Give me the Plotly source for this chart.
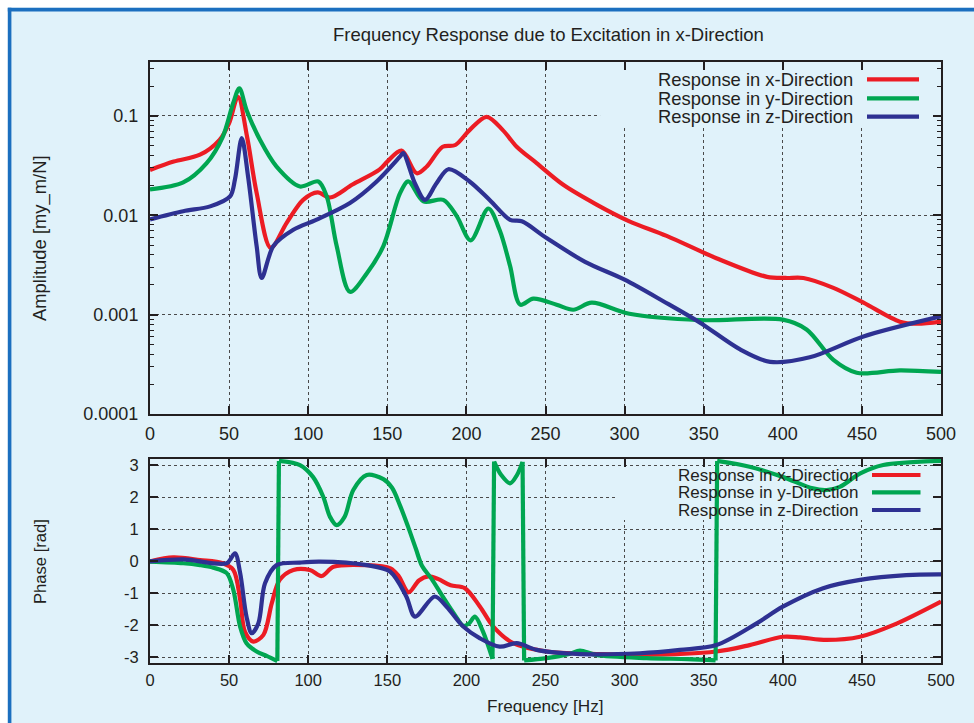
import plotly.graph_objects as go

FONT = "Liberation Sans, Arial, Helvetica, sans-serif"
INK = "#231f20"
BG = "#e0f2fa"
FRAME = "#1b6fbf"
GRID = "#4a4a4a"
RED = "#ec1c24"
GREEN = "#00a651"
BLUE = "#2e3192"

W, H = 974, 723

SERIES_NAMES = ["Response in x-Direction", "Response in y-Direction", "Response in z-Direction"]

# ---- Amplitude [my_m/N] ----
amp_x_f = [0, 15, 31.6, 44, 50, 55.6, 61.5, 67.4, 76.3, 86.4, 96.8, 106, 113.8, 128, 145, 150, 159,
           168.6, 175, 185, 193, 202, 212.8, 223, 231.8, 244.4, 261, 282, 303, 326.6, 358, 390, 402,
           413, 432, 451, 474, 484.6, 500]
amp_x = [0.0286, 0.0347, 0.0407, 0.0575, 0.0844, 0.156, 0.060, 0.0168, 0.0047, 0.0084, 0.0143, 0.0170,
         0.0151, 0.0204, 0.0288, 0.0347, 0.0447, 0.0265, 0.031, 0.049, 0.051, 0.072, 0.098, 0.072, 0.049,
         0.0335, 0.0204, 0.0129, 0.0087, 0.0062, 0.0037, 0.0024, 0.00234, 0.00234, 0.00186, 0.00132,
         0.00085, 0.00081, 0.00085]

amp_y_f = [0, 21, 35.8, 46, 52.6, 56.5, 61, 69.5, 80, 94.8, 106.4, 111.7, 118, 126.4, 137, 147.5, 158,
           163.3, 172.8, 185.4, 193.9, 202.7, 213.9, 221, 227.6, 234, 242.3, 257, 267.6, 279.2, 303,
           347.7, 400, 415, 432, 446.7, 474, 500]
amp_y = [0.0182, 0.0214, 0.0335, 0.0617, 0.135, 0.19, 0.115, 0.0575, 0.0309, 0.0195, 0.0219, 0.0155,
         0.0049, 0.0017, 0.0026, 0.0049, 0.0166, 0.0219, 0.0138, 0.0143, 0.0098, 0.0056, 0.0117, 0.0071,
         0.0031, 0.00126, 0.00145, 0.00126, 0.00112, 0.00132, 0.00102, 0.00088, 0.00089, 0.00071,
         0.00035, 0.00026, 0.000275, 0.000265]

amp_z_f = [0, 21, 38, 50.6, 53.7, 58, 62, 67.4, 70.6, 78, 90.6, 105, 126.4, 143.3, 158, 160, 167.5,
           173.8, 181, 188.6, 202, 215, 227.6, 235, 250.7, 275, 300, 325, 347.7, 373, 392, 417,
           451, 500]
amp_z = [0.0091, 0.011, 0.0123, 0.0155, 0.0229, 0.0597, 0.0245, 0.0049, 0.00234, 0.0049, 0.00714,
         0.009, 0.0133, 0.0219, 0.0389, 0.0422, 0.0209, 0.0143, 0.0209, 0.0291, 0.0219, 0.0141, 0.009,
         0.0087, 0.0059, 0.0034, 0.00225, 0.00135, 0.00083, 0.000447, 0.000335, 0.000372, 0.000603,
         0.00096]

# ---- Phase [rad] ----
ph_x_f = [0, 14.7, 31.6, 46, 52.7, 57, 60, 65.3, 71.7, 77, 82, 90.6, 101, 108.5, 116, 137, 152, 157,
          163.5, 170, 176, 182, 190, 199, 208.6, 217, 229.6, 250.7, 282, 309.7, 358, 379, 400, 411,
          427.7, 448.8, 470, 500]
ph_x = [0.0, 0.12, 0.04, -0.06, -0.27, -1.2, -2.2, -2.51, -2.3, -1.31, -0.58, -0.27, -0.27, -0.46,
        -0.17, -0.12, -0.22, -0.45, -0.97, -0.6, -0.47, -0.55, -0.75, -0.84, -1.42, -2.04, -2.56, -2.82,
        -2.9, -2.93, -2.82, -2.62, -2.36, -2.38, -2.46, -2.36, -1.99, -1.26]

ph_z_f = [0, 21, 48.5, 53.7, 57, 61, 64.3, 68.5, 72.7, 80, 94.8, 107.5, 137, 151.7, 162, 167.5, 180,
          187.5, 198, 208.6, 221, 231.8, 244.4, 271.8, 309.7, 335, 358, 383.5, 400, 425.5, 448.8, 478,
          500]
ph_z = [0.0, 0.06, -0.06, 0.25, -0.37, -1.73, -2.25, -1.94, -0.69, -0.12, -0.04, -0.01, -0.12, -0.32,
        -1.1, -1.73, -1.1, -1.42, -2.04, -2.41, -2.67, -2.56, -2.77, -2.9, -2.875, -2.77, -2.62, -1.94,
        -1.42, -0.84, -0.58, -0.43, -0.41]

# y-direction phase is wrapped to [-pi, pi]; each branch is stored separately
ph_y_branches_f = [
    [0, 21, 31.6, 40, 48.5, 52.7, 57, 61, 67.4, 73.7, 80.5],
    [81.5, 94.8, 103, 109.5, 113.8, 118, 123, 128.5, 137, 147.5, 153, 158, 163, 168, 172, 178, 185,
     193, 198, 201.5, 205.4, 210.5, 216.5],
    [217.5, 222, 227.6, 232, 235.5],
    [236.5, 250.7, 265, 271.8, 282, 314, 340, 357.5],
    [358.5, 379, 400, 419, 427.7, 436, 449, 463.5, 500],
]
ph_y_branches = [
    [-0.01, -0.06, -0.12, -0.2, -0.37, -0.9, -2.05, -2.56, -2.82, -2.96, -3.12],
    [3.14, 3.01, 2.64, 2.02, 1.39, 1.13, 1.39, 2.23, 2.7, 2.57, 2.3, 1.75, 1.1, 0.4, -0.15, -0.55,
     -1.1, -1.7, -2.02, -1.95, -1.73, -2.2, -3.05],
    [3.12, 2.7, 2.44, 2.7, 3.11],
    [-3.1, -3.03, -2.9, -2.79, -2.93, -3.03, -3.06, -3.1],
    [3.14, 2.96, 2.64, 2.28, 2.23, 2.33, 2.75, 3.01, 3.14],
]

x_ticks = list(range(0, 501, 50))
amp_ticks = [0.0001, 0.001, 0.01, 0.1]
amp_ticktext = ["0.0001", "0.001", "0.01", "0.1"]
phase_ticks = [-3, -2, -1, 0, 1, 2, 3]
phase_ticktext = ["-3", "-2", "-1", "0", "1", "2", "3"]

LINE_W = 4.2
SMOOTH = 0.9

fig = go.Figure()


def curve(xs, ys, color, xa, ya):
    fig.add_trace(go.Scatter(
        x=xs, y=ys, mode="lines", xaxis=xa, yaxis=ya, showlegend=False, hoverinfo="skip",
        line=dict(color=color, width=LINE_W, shape="spline", smoothing=SMOOTH),
    ))


# amplitude panel
curve(amp_x_f, amp_x, RED, "x", "y")
curve(amp_y_f, amp_y, GREEN, "x", "y")
curve(amp_z_f, amp_z, BLUE, "x", "y")

# phase panel
curve(ph_x_f, ph_x, RED, "x2", "y2")
for bf, bv in zip(ph_y_branches_f, ph_y_branches):
    curve(bf, bv, GREEN, "x2", "y2")
# vertical wrap jumps between consecutive branches
for i in range(len(ph_y_branches_f) - 1):
    fig.add_trace(go.Scatter(
        x=[ph_y_branches_f[i][-1], ph_y_branches_f[i + 1][0]],
        y=[ph_y_branches[i][-1], ph_y_branches[i + 1][0]],
        mode="lines", xaxis="x2", yaxis="y2", showlegend=False, hoverinfo="skip",
        line=dict(color=GREEN, width=LINE_W),
    ))
curve(ph_z_f, ph_z, BLUE, "x2", "y2")

# pixel layout of the two panels
PL, PR = 150, 941
TOP_T, TOP_B = 61.7, 414
BOT_T, BOT_B = 459, 663.3

axis_common = dict(
    showline=True, linecolor=INK, linewidth=2, mirror="ticks",
    ticks="inside", ticklen=8, tickwidth=1.5, tickcolor=INK,
    showgrid=True, gridcolor=GRID, griddash="dot", gridwidth=1,
    zeroline=False, automargin=False,
)
top_font = dict(family=FONT, size=18, color=INK)
bot_font = dict(family=FONT, size=16.5, color=INK)

fig.update_layout(
    width=W, height=H, autosize=False,
    margin=dict(l=0, r=0, t=0, b=0, pad=0, autoexpand=False),
    paper_bgcolor=BG, plot_bgcolor=BG,
    font=dict(family=FONT, color=INK),
    xaxis=dict(domain=[PL / W, PR / W], anchor="y", range=[0, 500], tickvals=x_ticks,
               ticklabelstandoff=2, tickfont=top_font, **axis_common),
    yaxis=dict(domain=[1 - TOP_B / H, 1 - TOP_T / H], anchor="x", type="log", range=[-4, -0.454],
               tickvals=amp_ticks, ticktext=amp_ticktext, ticklabelstandoff=6, tickfont=top_font,
               minor=dict(tickvals=[m * 10.0 ** e for e in range(-4, 0) for m in range(2, 10)],
                          ticks="inside", ticklen=4, tickwidth=1.2, tickcolor=INK, showgrid=False),
               **axis_common),
    xaxis2=dict(domain=[PL / W, PR / W], anchor="y2", range=[0, 500], tickvals=x_ticks,
                ticklabelstandoff=1, tickfont=bot_font, **axis_common),
    yaxis2=dict(domain=[1 - BOT_B / H, 1 - BOT_T / H], anchor="x2", range=[-3.19, 3.2],
                tickvals=phase_ticks, ticktext=phase_ticktext, ticklabelstandoff=6,
                tickfont=bot_font, **axis_common),
)

shapes = [
    # white page edge and blue frame around the panel (top and left edges visible)
    dict(type="rect", xref="paper", yref="paper", x0=0, x1=1, y0=1 - 7.8 / H, y1=1,
         fillcolor="white", line=dict(width=0), layer="below"),
    dict(type="rect", xref="paper", yref="paper", x0=0, x1=7.8 / W, y0=0, y1=1,
         fillcolor="white", line=dict(width=0), layer="below"),
    dict(type="line", xref="paper", yref="paper", x0=7.8 / W, x1=1, y0=1 - 9.6 / H, y1=1 - 9.6 / H,
         line=dict(color=FRAME, width=3.6), layer="below"),
    dict(type="line", xref="paper", yref="paper", x0=9.6 / W, x1=9.6 / W, y0=0, y1=1 - 7.8 / H,
         line=dict(color=FRAME, width=3.6), layer="below"),
    # key areas keep the grid clear
    dict(type="rect", xref="x", yref="y", x0=284.5, x1=500, y0=10 ** -1.09, y1=10 ** -0.454,
         fillcolor=BG, line=dict(width=0), layer="between"),
    dict(type="rect", xref="x2", yref="y2", x0=295.8, x1=500, y0=1.29, y1=2.95,
         fillcolor=BG, line=dict(width=0), layer="between"),
]

annotations = [
    dict(text="Frequency Response due to Excitation in x-Direction", x=548 / W, y=1 - 34 / H,
         xref="paper", yref="paper", showarrow=False, xanchor="center", yanchor="middle",
         font=dict(family=FONT, size=18.5, color=INK)),
    dict(text="Amplitude [my_m/N]", x=40 / W, y=1 - 238 / H, xref="paper", yref="paper",
         showarrow=False, textangle=-90, xanchor="center", yanchor="middle",
         font=dict(family=FONT, size=18.4, color=INK)),
    dict(text="Phase [rad]", x=40 / W, y=1 - 562 / H, xref="paper", yref="paper",
         showarrow=False, textangle=-90, xanchor="center", yanchor="middle",
         font=dict(family=FONT, size=16.6, color=INK)),
    dict(text="Frequency [Hz]", x=545 / W, y=1 - 706 / H, xref="paper", yref="paper",
         showarrow=False, xanchor="center", yanchor="middle",
         font=dict(family=FONT, size=17.2, color=INK)),
]

# keys: text right-aligned, line sample to its right
keys = [
    dict(text_right=855, x0=867, x1=919, rows=[79.3, 98.3, 116.7], size=18.4),
    dict(text_right=860, x0=872, x1=920.5, rows=[475, 492.3, 510], size=17),
]
for k in keys:
    for name, color, ry in zip(SERIES_NAMES, [RED, GREEN, BLUE], k["rows"]):
        annotations.append(dict(text=name, x=k["text_right"] / W, y=1 - ry / H, xref="paper",
                                yref="paper", showarrow=False, xanchor="right", yanchor="middle",
                                font=dict(family=FONT, size=k["size"], color=INK)))
        shapes.append(dict(type="line", xref="paper", yref="paper", x0=k["x0"] / W, x1=k["x1"] / W,
                           y0=1 - ry / H, y1=1 - ry / H, line=dict(color=color, width=LINE_W),
                           layer="above"))

fig.update_layout(shapes=shapes, annotations=annotations)

# page body without default margin so the figure fills the window exactly
fig.write_html("out.html", post_script="document.body.style.margin='0';")
